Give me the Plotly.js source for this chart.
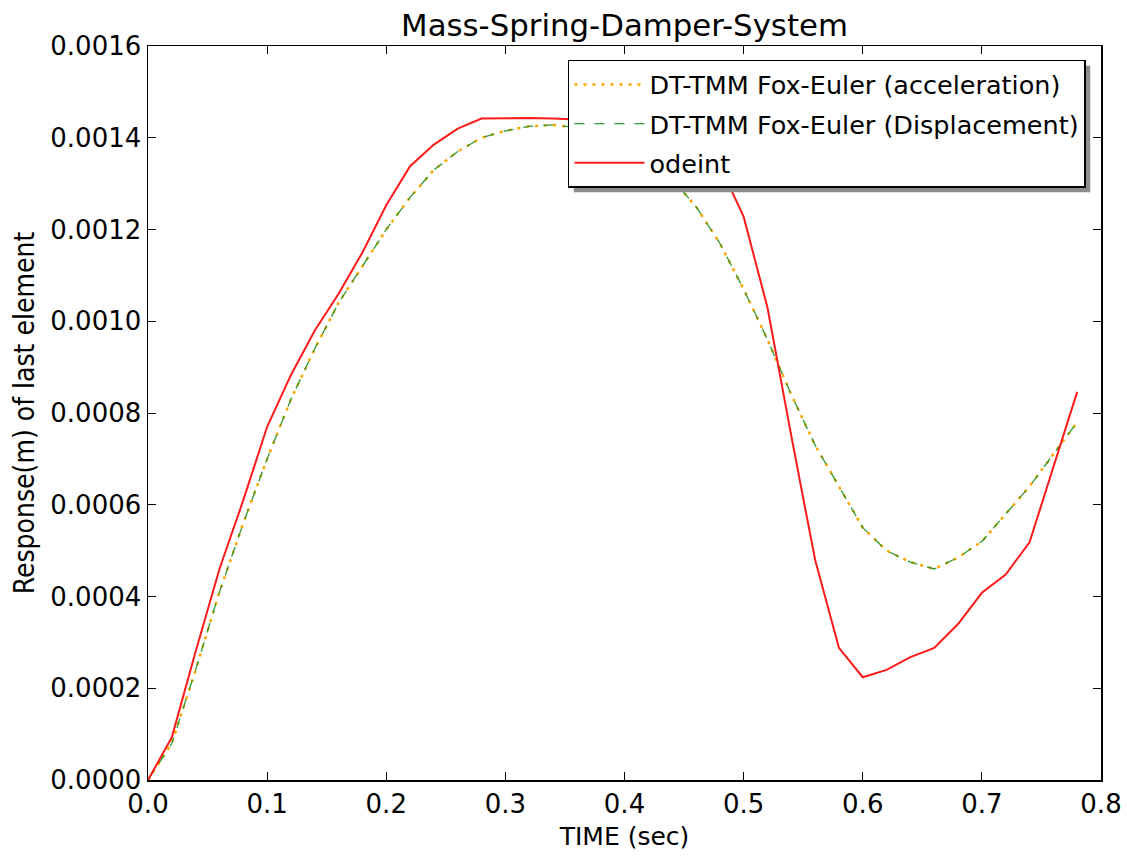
<!DOCTYPE html>
<html>
<head>
<meta charset="utf-8">
<script src="https://cdn.plot.ly/plotly-3.0.1.min.js"></script>
<style>html,body{margin:0;padding:0;background:#fff;}#chart{width:1127px;height:856px;}</style>
</head>
<body>
<div id="chart"></div>
<script>
const timeSec = [0.00,0.02,0.04,0.06,0.08,0.10,0.12,0.14,0.16,0.18,0.20,0.22,0.24,0.26,0.28,0.30,0.32,0.34,0.36,0.38,
                 0.40,0.42,0.44,0.46,0.48,0.50,0.52,0.54,0.56,0.58,0.60,0.62,0.64,0.66,0.68,0.70,0.72,0.74,0.76,0.78];

const accelFoxEuler = [0, 0.00008, 0.00024, 0.00041, 0.00056, 0.00070, 0.00083, 0.00094, 0.00104, 0.00112,
                       0.00120, 0.00127, 0.00133, 0.00137, 0.00140, 0.001415, 0.001425, 0.001428, 0.001422, 0.00141,
                       0.00139, 0.00136, 0.00131, 0.00125, 0.00117, 0.00107, 0.00096, 0.00084, 0.00073, 0.00064,
                       0.00055, 0.00050, 0.000475, 0.00046, 0.000485, 0.00052, 0.00058, 0.00064, 0.00071, 0.00078];

const dispFoxEuler = [0, 0.00008, 0.00024, 0.00041, 0.00056, 0.00070, 0.00083, 0.00094, 0.00104, 0.00112,
                      0.00120, 0.00127, 0.00133, 0.00137, 0.00140, 0.001415, 0.001425, 0.001428, 0.001422, 0.00141,
                      0.00139, 0.00136, 0.00131, 0.00125, 0.00117, 0.00107, 0.00096, 0.00084, 0.00073, 0.00064,
                      0.00055, 0.00050, 0.000475, 0.00046, 0.000485, 0.00052, 0.00058, 0.00064, 0.00071, 0.00078];

const odeintResp = [0, 0.000093, 0.00028, 0.00046, 0.00061, 0.00077, 0.000883, 0.00098, 0.00106, 0.00115,
                    0.001253, 0.001338, 0.001385, 0.00142, 0.001442, 0.001443, 0.001443, 0.001442, 0.00144, 0.00143,
                    0.00142, 0.00141, 0.00140, 0.00138, 0.00134, 0.001228, 0.00103, 0.00075, 0.00048, 0.000288,
                    0.000224, 0.00024, 0.000268, 0.000288, 0.00034, 0.000408, 0.000448, 0.000518, 0.00068, 0.000846];

const seriesNames = ["DT-TMM Fox-Euler (acceleration)", "DT-TMM Fox-Euler (Displacement)", "odeint"];
const xTickVals = [0,0.1,0.2,0.3,0.4,0.5,0.6,0.7,0.8];
const yTickVals = [0,0.0002,0.0004,0.0006,0.0008,0.0010,0.0012,0.0014,0.0016];

const baseFont = "DejaVu Sans, Verdana, sans-serif";

const traces = [
  {x: timeSec, y: accelFoxEuler, name: seriesNames[0], legendgroup: "a", mode: "lines",
   line: {color: "#ffa500", width: 2.5, dash: "3px,6px"}},
  {x: timeSec, y: dispFoxEuler, name: seriesNames[1], legendgroup: "b", mode: "lines",
   line: {color: "#2f9a2f", width: 1.3, dash: "10px,10px"}},
  {x: timeSec, y: odeintResp, name: seriesNames[2], legendgroup: "c", mode: "lines",
   line: {color: "#ff1a1a", width: 2}}
];

const layout = {
  width: 1127, height: 856,
  paper_bgcolor: "#ffffff", plot_bgcolor: "#ffffff",
  margin: {l: 148, r: 26, t: 46, b: 76},
  font: {family: baseFont, color: "#000", size: 26},
  title: {text: "Mass-Spring-Damper-System", x: 0.5, xref: "paper", xanchor: "center",
          y: 0.971, yref: "container", yanchor: "middle",
          font: {family: baseFont, size: 30.8, color: "#000"}},
  showlegend: true,
  legend: {x: 0.4407, y: 0.981, xanchor: "left", yanchor: "top",
           bgcolor: "#ffffff", bordercolor: "#000", borderwidth: 1.5,
           font: {family: baseFont, size: 25.5, color: "#000"},
           tracegroupgap: 3, itemwidth: 70},
  xaxis: {range: [0, 0.8], tickvals: xTickVals, tickformat: ".1f",
          ticks: "inside", ticklen: 8, tickwidth: 1, tickcolor: "#000",
          showline: true, linecolor: "#000", linewidth: 1.5, mirror: "ticks",
          showgrid: false, zeroline: false,
          tickfont: {family: baseFont, size: 26, color: "#000"},
          title: {text: "TIME (sec)", standoff: 10, font: {family: baseFont, size: 25, color: "#000"}}},
  yaxis: {range: [0, 0.0016], tickvals: yTickVals, tickformat: ".4f",
          ticks: "inside", ticklen: 8, tickwidth: 1, tickcolor: "#000",
          showline: true, linecolor: "#000", linewidth: 1.5, mirror: "ticks",
          showgrid: false, zeroline: false,
          tickfont: {family: baseFont, size: 26, color: "#000"},
          title: {text: "Response(m) of last element", standoff: 7,
                  font: {family: "DejaVu Sans Condensed, Liberation Sans Narrow, " + baseFont, size: 28, color: "#000"}}}
};

const gd = document.getElementById("chart");
Plotly.newPlot(gd, traces, layout, {displayModeBar: false, staticPlot: true}).then(function () {
  // drop shadow behind the legend box, as in the matplotlib original
  const bg = gd.querySelector(".legend .bg");
  if (!bg) return;
  const r = bg.getBoundingClientRect();
  const g = gd.getBoundingClientRect();
  const fl = gd._fullLayout;
  const off = 5;
  const toPx = (px) => (px - g.left - fl._size.l) / fl._size.w;
  const toPy = (py) => 1 - (py - g.top - fl._size.t) / fl._size.h;
  return Plotly.relayout(gd, {shapes: [{
    type: "rect", xref: "paper", yref: "paper", layer: "above",
    x0: toPx(r.left + off), x1: toPx(r.right + off),
    y0: toPy(r.bottom + off), y1: toPy(r.top + off),
    fillcolor: "#8c8c8c", line: {width: 0}
  }]});
});
</script>
</body>
</html>
